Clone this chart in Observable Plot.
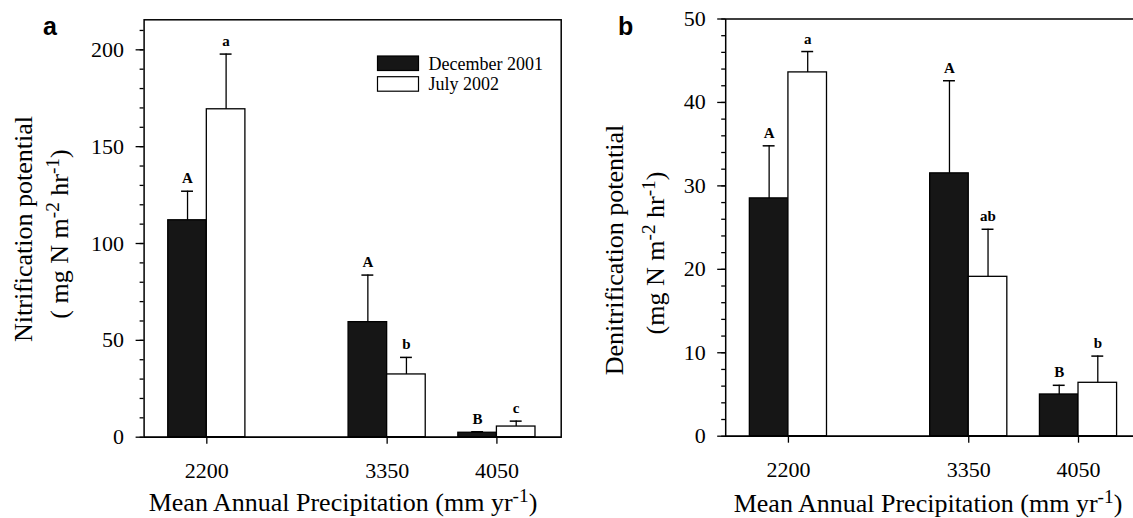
<!DOCTYPE html>
<html><head><meta charset="utf-8">
<script src="https://cdn.jsdelivr.net/npm/d3@7"></script>
<script src="https://cdn.jsdelivr.net/npm/@observablehq/plot@0.6"></script>
<style>
html,body{margin:0;padding:0;background:#fff;overflow:hidden;width:1133px;height:518px}
#wrap{position:relative;width:1133px;height:518px;overflow:hidden;background:#fff}
.panel{position:absolute;top:0}
</style></head><body><div id="wrap"></div>
<script>
// ---- data ----
const precipitation = [2200, 3350, 4050];
const seasons = ["December 2001", "July 2002"];
const nitrifDec = [112, 59.4, 2.3];
const nitrifDecSE = [15, 24.3, 0.5];
const nitrifJul = [169.3, 32.4, 5.5];
const nitrifJulSE = [28.5, 8.8, 2.8];
const nitrifDecLetters = ["A", "A", "B"];
const nitrifJulLetters = ["a", "b", "c"];
const denitDec = [28.5, 31.5, 5.0];
const denitDecSE = [6.3, 11.1, 1.1];
const denitJul = [43.6, 19.1, 6.4];
const denitJulSE = [2.5, 5.7, 3.2];
const denitDecLetters = ["A", "A", "B"];
const denitJulLetters = ["a", "ab", "b"];
const nitrifTicks = [0, 50, 100, 150, 200];
const denitTicks = [0, 10, 20, 30, 40, 50];

const SERIF = "'Liberation Serif','Times New Roman',serif";
const SANS = "'Liberation Sans',Arial,sans-serif";
const BAR_W = 246;   // bar width in mm yr-1 units
const CAP = 38;      // half cap width
const DARK = "#161616";

function rows(dec, decSE, decL, jul, julSE, julL) {
  const out = [];
  precipitation.forEach((p, i) => {
    out.push({p, season: seasons[0], x1: p - BAR_W, x2: p, c: p - BAR_W / 2, v: dec[i], top: dec[i] + decSE[i], letter: decL[i], fill: DARK});
    out.push({p, season: seasons[1], x1: p, x2: p + BAR_W, c: p + BAR_W / 2, v: jul[i], top: jul[i] + julSE[i], letter: julL[i], fill: "white"});
  });
  return out;
}

function makePanel({data, yDomain, major, minorStep, width, marginLeft, marginTop, marginBottom, marginRight}) {
  const minor = d3.range(0, yDomain[1] + 1e-9, minorStep);
  return Plot.plot({
    width, height: 518, marginLeft, marginRight, marginTop, marginBottom,
    style: {fontFamily: SERIF, background: "white", color: "black", overflow: "visible"},
    x: {domain: [1800, 4460]},
    y: {domain: yDomain},
    marks: [
      Plot.axisY({ticks: minor, tickSize: 4, text: null, strokeWidth: 1.3}),
      Plot.axisY({ticks: major, tickSize: 8, tickPadding: 12, fontSize: 22, fontFamily: SERIF, label: null, strokeWidth: 1.3, tickFormat: d => String(d)}),
      Plot.axisX({ticks: precipitation, tickSize: 7, tickPadding: 18, fontSize: 22, fontFamily: SERIF, label: null, strokeWidth: 1.3, tickFormat: d => String(d)}),
      Plot.rectY(data, {x1: "x1", x2: "x2", y: "v", fill: "fill", stroke: "black", strokeWidth: 1.3}),
      Plot.ruleX(data, {x: "c", y1: "v", y2: "top", stroke: "black", strokeWidth: 1.3}),
      Plot.ruleY(data, {x1: d => d.c - CAP, x2: d => d.c + CAP, y: "top", stroke: "black", strokeWidth: 1.5}),
      Plot.text(data, {x: "c", y: "top", text: "letter", dy: -8, lineAnchor: "bottom", fontSize: 15, fontWeight: "bold", fontFamily: SERIF}),
      Plot.ruleY([0], {stroke: "black", strokeWidth: 1.5}),
      Plot.frame({stroke: "black", strokeWidth: 1.5})
    ]
  });
}

function addText(svg, {x, y, rotate = 0, size, anchor = "middle", weight = "normal", family = SERIF, parts}) {
  const t = d3.select(svg).append("text")
    .attr("transform", `translate(${x},${y}) rotate(${rotate})`)
    .attr("text-anchor", anchor)
    .attr("font-family", family)
    .attr("font-size", size)
    .attr("font-weight", weight)
    .attr("fill", "black");
  let shift = 0;
  for (const p of parts) {
    const isSup = typeof p === "object";
    const s = t.append("tspan").text(isSup ? p.sup : p);
    if (isSup) {
      s.attr("font-size", size * 0.74).attr("dy", -size * 0.36);
      shift = size * 0.36;
    } else if (shift) {
      s.attr("dy", shift);
      shift = 0;
    }
  }
  return t;
}

const wrap = document.getElementById("wrap");

// ---- panel a ----
const svgA = makePanel({
  data: rows(nitrifDec, nitrifDecSE, nitrifDecLetters, nitrifJul, nitrifJulSE, nitrifJulLetters),
  yDomain: [0, 215.5], major: nitrifTicks, minorStep: 10,
  width: 566, marginLeft: 143.6, marginRight: 5.3, marginTop: 19.3, marginBottom: 81.3
});
svgA.classList.add("panel");
svgA.style.left = "0px";
wrap.appendChild(svgA);
addText(svgA, {x: 43, y: 35, size: 25, anchor: "start", weight: "bold", family: SANS, parts: ["a"]});
addText(svgA, {x: 32, y: 229, rotate: -90, size: 26, parts: ["Nitrification potential"]});
addText(svgA, {x: 68, y: 234, rotate: -90, size: 26, parts: ["( mg N m", {sup: "-2"}, " hr", {sup: "-1"}, ")"]});
addText(svgA, {x: 343, y: 511, size: 26, parts: ["Mean Annual Precipitation (mm yr", {sup: "-1"}, ")"]});
// legend
const leg = d3.select(svgA).append("g");
seasons.forEach((s, i) => {
  const y0 = 56 + i * 20.7;
  leg.append("rect").attr("x", 377.5).attr("y", y0).attr("width", 41).attr("height", 14.5)
    .attr("fill", i === 0 ? DARK : "white").attr("stroke", "black").attr("stroke-width", 1.2);
  leg.append("text").attr("x", 428.5).attr("y", y0 + 13.5).attr("font-family", SERIF)
    .attr("text-anchor", "start").attr("font-size", 18).attr("fill", "black").text(s);
});

// ---- panel b ----
const svgB = makePanel({
  data: rows(denitDec, denitDecSE, denitDecLetters, denitJul, denitJulSE, denitJulLetters),
  yDomain: [0, 50], major: denitTicks, minorStep: 2,
  width: 582, marginLeft: 159.2, marginRight: 5.7, marginTop: 18.5, marginBottom: 82.3
});
svgB.classList.add("panel");
svgB.style.left = "566px";
wrap.appendChild(svgB);
addText(svgB, {x: 52, y: 35, size: 25, anchor: "start", weight: "bold", family: SANS, parts: ["b"]});
addText(svgB, {x: 57, y: 250, rotate: -90, size: 26, parts: ["Denitrification potential"]});
addText(svgB, {x: 98, y: 253, rotate: -90, size: 26, parts: ["(mg N m", {sup: "-2"}, " hr", {sup: "-1"}, ")"]});
addText(svgB, {x: 362, y: 512, size: 26, parts: ["Mean Annual Precipitation (mm yr", {sup: "-1"}, ")"]});
</script>
</body></html>
